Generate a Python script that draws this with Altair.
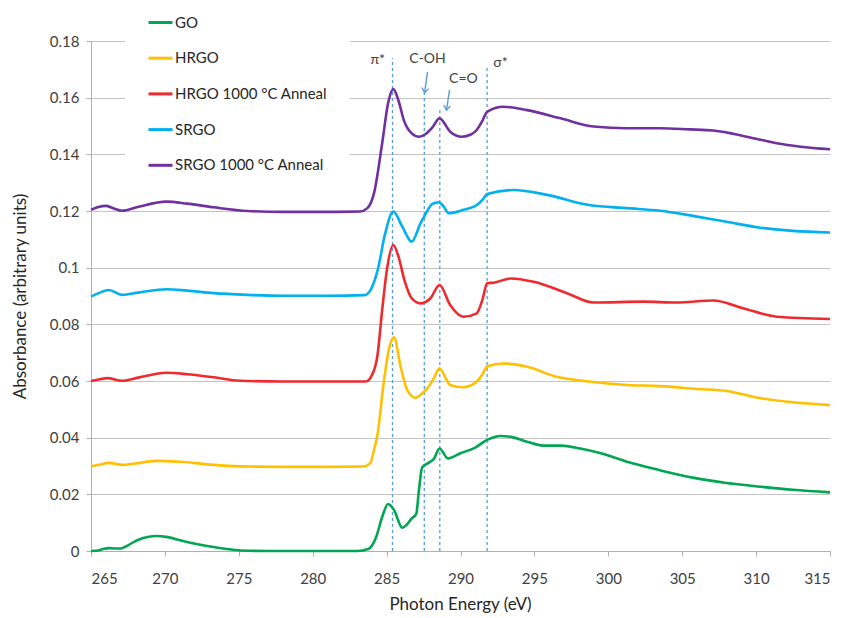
import altair as alt
import pandas as pd

SERIES = ["GO", "HRGO", "HRGO 1000 °C Anneal", "SRGO", "SRGO 1000 °C Anneal"]
COLORS = ["#00A651", "#FFC000", "#EE2A2E", "#00B0F0", "#7030A0"]

X_TICKS = [265, 270, 275, 280, 285, 290, 295, 300, 305, 310, 315]
Y_TICKS = [0, 0.02, 0.04, 0.06, 0.08, 0.1, 0.12, 0.14, 0.16, 0.18]

go_x = [265, 265.5, 265.9, 266.2, 266.6, 267.0, 267.5, 268.0, 268.6, 269.4, 270.2, 271.1,
        272.2, 273.3, 274.2, 275.1, 277, 280, 283.0, 283.8, 284.3, 284.7, 285.1, 285.5,
        286.06, 286.4, 286.7, 287.0, 287.2, 287.4, 287.86, 288.2, 288.58, 289.15, 290.0,
        291.0, 291.8, 292.7, 293.5, 294.5, 295.6, 296.8, 298.1, 299.5, 301.26, 303.5,
        305.8, 308.0, 310.3, 312.5, 315]
go_y = [0, 0.0002, 0.0008, 0.001, 0.0009, 0.0009, 0.002, 0.0035, 0.0047, 0.0053, 0.0049, 0.0037,
        0.0024, 0.0014, 0.0007, 0.0002, 0, 0, 0, 0.0008, 0.005, 0.012, 0.0166, 0.0145,
        0.0082, 0.0095, 0.0115, 0.013, 0.022, 0.0295, 0.0312, 0.0325, 0.0362, 0.0327, 0.0345,
        0.0365, 0.0392, 0.0406, 0.0402, 0.0386, 0.0372, 0.0372, 0.0362, 0.0345, 0.0315, 0.0285,
        0.0258, 0.0240, 0.0227, 0.0216, 0.0207]

hrgo_x = [265, 265.6, 266.2, 267.1, 268.0, 269.5, 271.0, 273.3, 275.6, 278, 281, 283.4,
          283.9, 284.1, 284.4, 284.8, 285.15, 285.5, 285.95, 286.4, 286.96, 287.4, 287.75,
          288.2, 288.58, 289.0, 289.3, 290.2, 291.1, 291.5, 291.8, 292.9, 294.5, 296.5,
          298.7, 301.26, 303.5, 306.0, 308.0, 310.3, 312.5, 315]
hrgo_y = [0.0298, 0.0305, 0.0311, 0.0304, 0.0309, 0.0318, 0.0315, 0.0304, 0.0298, 0.0297, 0.0297, 0.0298,
          0.031, 0.0345, 0.0416, 0.0592, 0.071, 0.0754, 0.065, 0.0568, 0.0541, 0.0556, 0.0574,
          0.061, 0.0645, 0.061, 0.0586, 0.0578, 0.0598, 0.0625, 0.0651, 0.0662, 0.065, 0.0615,
          0.0598, 0.0586, 0.0582, 0.0572, 0.0565, 0.0539, 0.0525, 0.0515]

hrgoa_x = [265, 265.6, 266.1, 267.1, 268.2, 270.1, 271.5, 273.3, 275.1, 278, 281, 283.4,
           283.7, 284.0, 284.37, 284.7, 285.0, 285.45, 285.8, 286.2, 286.7, 287.3, 287.97,
           288.58, 289.3, 290.2, 291.1, 291.5, 291.8, 292.25, 293.4, 294.95, 297.2, 299,
           302.4, 304.6, 307.1, 309.1, 311.4, 315]
hrgoa_y = [0.06, 0.0606, 0.061, 0.0601, 0.0612, 0.0629, 0.0624, 0.0613, 0.0601, 0.0598, 0.0598, 0.0598,
           0.0600, 0.062, 0.0686, 0.085, 0.0985, 0.108, 0.104, 0.0957, 0.0892, 0.0874, 0.0892,
           0.0939, 0.0868, 0.0827, 0.0839, 0.089, 0.0945, 0.0947, 0.0962, 0.095, 0.091, 0.0877,
           0.088, 0.0877, 0.0884, 0.0857, 0.0827, 0.0819]

srgo_x = [265, 265.6, 266.2, 267.1, 268.2, 270.1, 271.5, 273.3, 275.6, 278, 281, 283.5,
          283.9, 284.4, 284.9, 285.45, 286.06, 286.7, 287.3, 287.6, 288.1, 288.53, 288.87,
          289.2, 290.2, 291.1, 291.5, 291.8, 293.6, 295.86, 298.7, 301.26, 303.5, 305.8,
          308.0, 310.3, 312.5, 315]
srgo_y = [0.0898, 0.0912, 0.0921, 0.0904, 0.0912, 0.0924, 0.0919, 0.091, 0.0904, 0.0901, 0.0901, 0.0903,
          0.092, 0.0992, 0.112, 0.1198, 0.1145, 0.1092, 0.1157, 0.1186, 0.1225, 0.1231, 0.1215,
          0.1192, 0.1204, 0.1221, 0.124, 0.126, 0.1274, 0.1257, 0.1221, 0.121, 0.1201, 0.1182,
          0.1162, 0.1141, 0.113, 0.1124]

srgoa_x = [265, 265.5, 266.0, 266.5, 267.1, 268.2, 270.1, 271.5, 273.3, 275.6, 278, 281,
           283.2, 283.7, 284.15, 284.7, 285.1, 285.45, 285.8, 286.17, 286.7, 287.2, 287.6,
           288.1, 288.58, 289.3, 290.1, 290.7, 291.1, 291.5, 291.8, 292.9, 294.5, 296.76,
           299, 301.26, 303.5, 305.5, 307.1, 308.5, 310, 311.4, 313, 315]
srgoa_y = [0.1204, 0.1214, 0.1218, 0.121, 0.1201, 0.1215, 0.1233, 0.1226, 0.1213, 0.12, 0.1197, 0.1197,
           0.1198, 0.121, 0.1263, 0.1439, 0.158, 0.163, 0.159, 0.152, 0.1474, 0.1462, 0.147,
           0.1495, 0.1527, 0.148, 0.1462, 0.147, 0.1486, 0.152, 0.155, 0.1568, 0.1556, 0.1527,
           0.1498, 0.1492, 0.1492, 0.1488, 0.1484, 0.1472, 0.1455, 0.1439, 0.1427, 0.1418]

# annotation data
ref_x = [285.4, 287.55, 288.6, 291.8]
ref_top = [0.174, 0.1617, 0.1556, 0.1705]
label_text = ["π*", "C-OH", "C=O", "σ*"]
label_x = [284.4, 287.77, 290.2, 292.7]
label_y = [0.1733, 0.1738, 0.1666, 0.1723]
arrow_x = [287.77, 289.26]
arrow_y = [0.1691, 0.1627]
arrow_x2 = [287.57, 289.05]
arrow_y2 = [0.1617, 0.1556]

FONT = "Lato"

rows = []
for name, xs, ys in zip(SERIES, [go_x, hrgo_x, hrgoa_x, srgo_x, srgoa_x],
                        [go_y, hrgo_y, hrgoa_y, srgo_y, srgoa_y]):
    for xv, yv in zip(xs, ys):
        rows.append({"series": name, "energy": xv, "absorbance": yv})
df = pd.DataFrame(rows)

xscale = alt.Scale(domain=[265, 315], nice=False, zero=False)
yscale = alt.Scale(domain=[0, 0.18], nice=False)

lines = alt.Chart(df).mark_line(strokeWidth=2.6, interpolate="monotone").encode(
    x=alt.X("energy:Q", scale=xscale,
            axis=alt.Axis(values=X_TICKS, format="d", grid=False, title="Photon Energy (eV)",
                          titleX=369, titleY=53, titleBaseline="middle", labelPadding=15)),
    y=alt.Y("absorbance:Q", scale=yscale,
            axis=alt.Axis(values=Y_TICKS, format=".2~f", title="Absorbance (arbitrary units)",
                          titleX=-71, titleY=255, titleBaseline="middle")),
    color=alt.Color("series:N", scale=alt.Scale(domain=SERIES, range=COLORS),
                    legend=alt.Legend(title=None, orient="none", legendX=34, legendY=-54,
                                      symbolType="stroke", symbolStrokeWidth=3, symbolSize=576,
                                      labelFontSize=15, labelFont=FONT, labelColor="#262626",
                                      rowPadding=13.7, fillColor="white", padding=22,
                                      labelOffset=1, direction="vertical", labelLimit=300)),
    detail="series:N",
)

ref_df = pd.DataFrame({"x": ref_x, "top": ref_top, "bottom": [0] * len(ref_x)})
rules = alt.Chart(ref_df).mark_rule(color="#5B9BD5", strokeWidth=1.3, strokeDash=[3, 3]).encode(
    x=alt.X("x:Q", scale=xscale), y=alt.Y("bottom:Q", scale=yscale), y2="top:Q")

lab_df = pd.DataFrame({"x": label_x, "y": label_y, "t": label_text})
labels = alt.Chart(lab_df).mark_text(font=FONT, fontSize=14, color="#404040").encode(
    x=alt.X("x:Q", scale=xscale), y=alt.Y("y:Q", scale=yscale), text="t:N")

arr_df = pd.DataFrame({"x": arrow_x, "y": arrow_y, "x2": arrow_x2, "y2": arrow_y2})
arrow_shafts = alt.Chart(arr_df).mark_rule(color="#5B9BD5", strokeWidth=1.4).encode(
    x=alt.X("x:Q", scale=xscale), y=alt.Y("y:Q", scale=yscale), x2="x2:Q", y2="y2:Q")
arrow_heads = alt.Chart(arr_df).mark_point(
    shape="M-0.7,-1L0,0L0.7,-1", filled=False, color="#5B9BD5", strokeWidth=1.4, size=90, angle=8,
    opacity=1).encode(x=alt.X("x2:Q", scale=xscale), y=alt.Y("y2:Q", scale=yscale))

chart = alt.layer(rules, lines, arrow_shafts, arrow_heads, labels).properties(
    width=739, height=510,
    padding={"left": 83, "top": 33, "right": 9, "bottom": 67},
    autosize=alt.AutoSizeParams(type="none"),
).configure_view(stroke=None).configure_axis(
    domainColor="#b0b0b0", tickColor="#b0b0b0", gridColor="#c4c4c4", gridWidth=1.2,
    tickSize=5, labelFont=FONT, labelFontSize=15, labelColor="#404040", labelPadding=7,
    titleFont=FONT, titleFontSize=17, titleFontWeight="normal", titleColor="#262626",
)

chart.save("out.html", embed_options={"renderer": "svg", "actions": False})
